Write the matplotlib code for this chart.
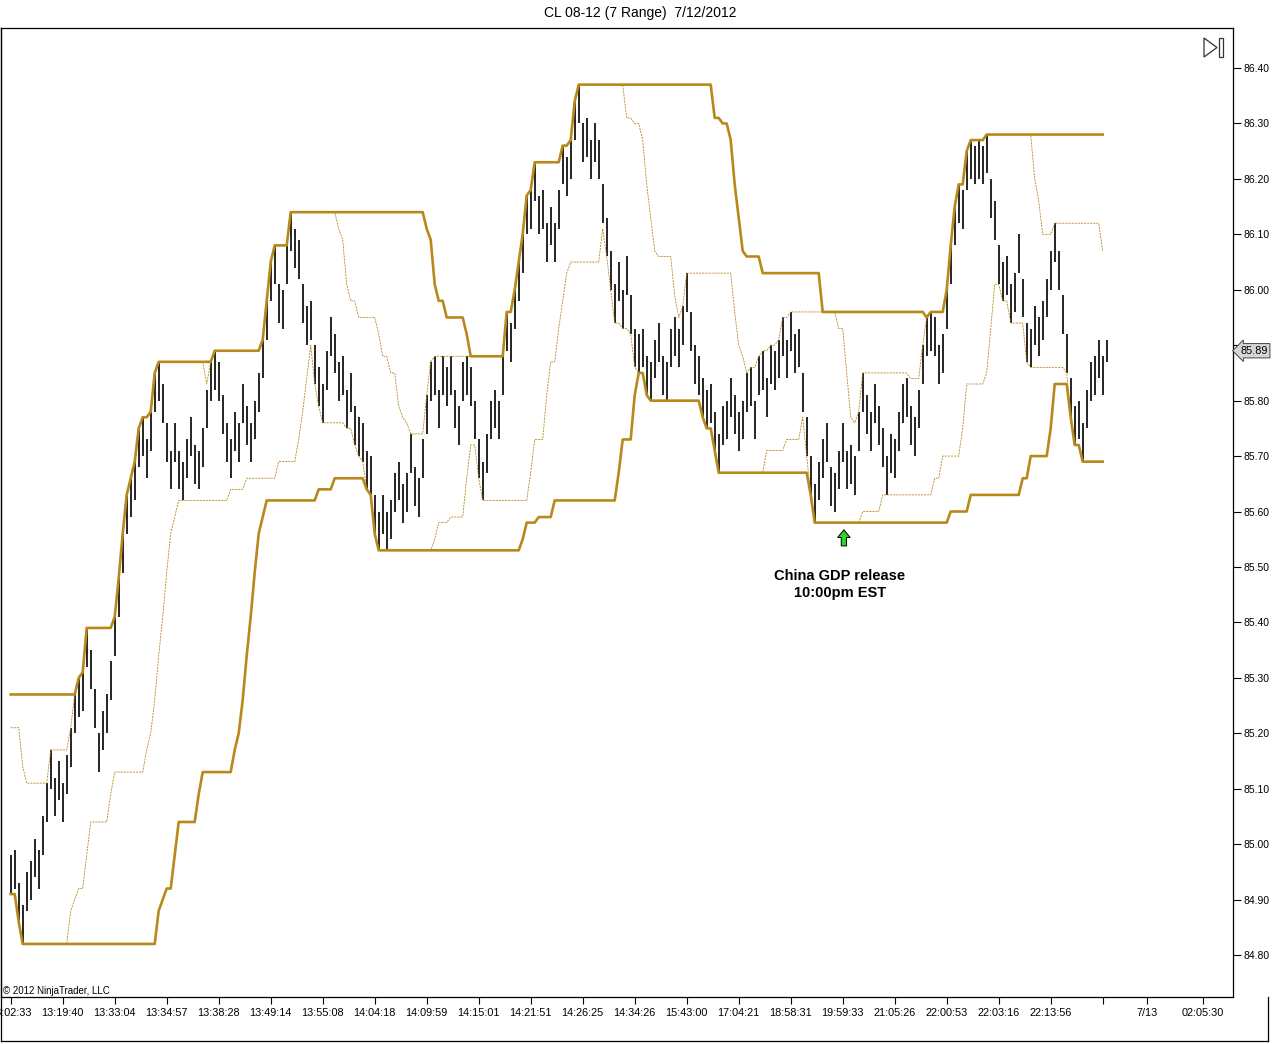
import numpy as np
import pandas as pd
import matplotlib
matplotlib.use("Agg")
import matplotlib.pyplot as plt
from matplotlib.patches import Polygon, Rectangle
from matplotlib.lines import Line2D
from matplotlib.ticker import FixedLocator, FuncFormatter
import matplotlib.transforms as mtransforms

plt.rcParams['font.family'] = ['Liberation Sans', 'DejaVu Sans']

# 7-tick range bars, high of each bar
bar_high = [
    84.98, 84.99, 84.93, 84.89, 84.95, 84.97, 85.01, 84.99, 85.05, 85.11,
    85.17, 85.12, 85.15, 85.11, 85.16, 85.21, 85.27, 85.30, 85.31, 85.39,
    85.35, 85.28, 85.20, 85.24, 85.27, 85.33, 85.41, 85.48, 85.56, 85.63,
    85.66, 85.69, 85.75, 85.77, 85.73, 85.78, 85.85, 85.87, 85.83, 85.76,
    85.71, 85.76, 85.71, 85.69, 85.73, 85.77, 85.72, 85.71, 85.75, 85.82,
    85.87, 85.89, 85.87, 85.81, 85.76, 85.73, 85.78, 85.76, 85.83, 85.79,
    85.76, 85.80, 85.85, 85.91, 85.98, 86.05, 86.08, 86.01, 86.00, 86.08,
    86.14, 86.11, 86.09, 86.01, 85.97, 85.98, 85.90, 85.86, 85.83, 85.89,
    85.95, 85.92, 85.87, 85.88, 85.82, 85.85, 85.79, 85.77, 85.76, 85.71,
    85.70, 85.63, 85.60, 85.63, 85.60, 85.62, 85.67, 85.69, 85.65, 85.67,
    85.74, 85.68, 85.66, 85.73, 85.81, 85.87, 85.88, 85.82, 85.88, 85.86,
    85.88, 85.82, 85.79, 85.87, 85.88, 85.86, 85.80, 85.73, 85.69, 85.74,
    85.80, 85.82, 85.80, 85.88, 85.96, 85.94, 86.00, 86.05, 86.10, 86.17,
    86.18, 86.23, 86.17, 86.18, 86.12, 86.15, 86.12, 86.18, 86.26, 86.24,
    86.27, 86.34, 86.37, 86.30, 86.31, 86.27, 86.30, 86.27, 86.19, 86.13,
    86.07, 86.01, 86.05, 86.00, 86.06, 85.99, 85.93, 85.92, 85.93, 85.88,
    85.87, 85.91, 85.94, 85.88, 85.87, 85.93, 85.95, 85.93, 85.97, 86.03,
    85.96, 85.90, 85.88, 85.84, 85.82, 85.83, 85.78, 85.74, 85.79, 85.80,
    85.84, 85.81, 85.78, 85.80, 85.85, 85.86, 85.80, 85.88, 85.89, 85.84,
    85.90, 85.89, 85.91, 85.95, 85.91, 85.96, 85.92, 85.93, 85.85, 85.77,
    85.70, 85.65, 85.69, 85.73, 85.76, 85.68, 85.67, 85.71, 85.76, 85.71,
    85.72, 85.70, 85.78, 85.85, 85.81, 85.78, 85.83, 85.79, 85.75, 85.70,
    85.74, 85.73, 85.78, 85.83, 85.84, 85.79, 85.77, 85.82, 85.90, 85.95,
    85.96, 85.95, 85.90, 85.92, 86.00, 86.08, 86.15, 86.19, 86.18, 86.25,
    86.27, 86.26, 86.27, 86.26, 86.28, 86.20, 86.16, 86.08, 86.05, 86.06,
    86.01, 86.03, 86.10, 86.02, 85.94, 85.93, 85.97, 85.95, 85.98, 86.02,
    86.07, 86.12, 86.07, 85.99, 85.92, 85.84, 85.79, 85.80, 85.76, 85.82,
    85.87, 85.88, 85.91, 85.88, 85.91,
]
bar_range = 0.07          # 7 ticks
last_bar_low = 85.87      # last bar still forming
last_price = 85.89

# channel values at the left edge, carried over from bars before the chart
slow_upper_lead = [85.27, 85.27, 85.27, 85.27, 85.27, 85.27, 85.27, 85.27,
                   85.27, 85.27, 85.27, 85.27, 85.27, 85.27, 85.27, 85.27,
                   85.27, 85.27, 85.27]
fast_upper_lead = [85.21, 85.21, 85.21, 85.14, 85.11, 85.11, 85.11, 85.11,
                   85.11, 85.11]
slow_period = 34
fast_period = 12

tick_bars = [0, 13, 26, 39, 52, 65, 78, 91, 104, 117, 130, 143, 156, 169,
             182, 195, 208, 221, 234, 247, 260, 273, 284, 298]
tick_labels = ['13:02:33', '13:19:40', '13:33:04', '13:34:57', '13:38:28',
               '13:49:14', '13:55:08', '14:04:18', '14:09:59', '14:15:01',
               '14:21:51', '14:26:25', '14:34:26', '15:43:00', '17:04:21',
               '18:58:31', '19:59:33', '21:05:26', '22:00:53', '22:03:16',
               '22:13:56', '', '7/13', '02:05:30']
price_ticks = [84.80, 84.90, 85.00, 85.10, 85.20, 85.30, 85.40, 85.50, 85.60,
               85.70, 85.80, 85.90, 86.00, 86.10, 86.20, 86.30, 86.40]

note_bar = 208.3
note_text = 'China GDP release\n10:00pm EST'

# ---- derived series
highs = np.array(bar_high)
lows = highs - bar_range
lows[-1] = last_bar_low
idx = np.arange(len(highs))

# channels are computed on closed bars only
hi = pd.Series(highs[:-1])
lo = pd.Series(lows[:-1])
slow_up = hi.rolling(slow_period, min_periods=1).max().to_numpy()
slow_dn = lo.rolling(slow_period, min_periods=1).min().to_numpy()
fast_up = hi.rolling(fast_period, min_periods=1).max().to_numpy()
fast_dn = lo.rolling(fast_period, min_periods=1).min().to_numpy()
n = len(slow_upper_lead)
slow_up[:n] = np.maximum(slow_up[:n], slow_upper_lead)
n = len(fast_upper_lead)
fast_up[:n] = np.maximum(fast_up[:n], fast_upper_lead)
cidx = idx[:-1]

W, H = 1280, 1044
fig = plt.figure(figsize=(W / 100, H / 100), dpi=100)
fig.patch.set_facecolor('white')
ax = fig.add_axes([1 / W, 1 - 997 / H, 1232 / W, 969 / H])

gold = '#B8891A'
ax.vlines(idx, lows, highs, color='black', lw=1.2, zorder=2)
ax.plot(cidx, slow_up, color=gold, lw=1.9, zorder=3)
ax.plot(cidx, slow_dn, color=gold, lw=1.9, zorder=3)
ax.plot(cidx, fast_up, color=gold, lw=0.6, ls=(0, (2.5, 1.2)), zorder=3)
ax.plot(cidx, fast_dn, color=gold, lw=0.6, ls=(0, (2.5, 1.2)), zorder=3)

# px -> data: bar i sits at x = 10.7 + 4 i ; 554.4 px per dollar
ax.set_xlim((1 - 10.7) / 4, (1233 - 10.7) / 4)
ax.set_ylim(86.40 - (997 - 68) / 554.4, 86.40 + (68 - 28) / 554.4)


def price_label(v, pos):
    # the 85.90 label sits under the last-price marker
    if abs(v - 85.90) < 1e-6:
        return ''
    return f'{v:.2f}'


ax.yaxis.tick_right()
ax.yaxis.set_major_locator(FixedLocator(price_ticks))
ax.yaxis.set_major_formatter(FuncFormatter(price_label))
ax.xaxis.set_major_locator(FixedLocator(tick_bars))
ax.set_xticklabels(tick_labels)
ax.tick_params(axis='y', direction='out', length=6, width=0.8, pad=1.5,
               labelsize=7.5, colors='black')
ax.tick_params(axis='x', direction='out', length=5, width=0.8, pad=3,
               labelsize=7.8, colors='black')
for s in ax.spines.values():
    s.set_linewidth(0.9)
    s.set_color('black')

# current price marker
blend = mtransforms.blended_transform_factory(ax.transAxes, ax.transData)
ax.text(1.006, last_price, f'{last_price:.2f}', transform=blend,
        ha='left', va='center', fontsize=7.8, clip_on=False, zorder=5,
        bbox=dict(boxstyle='larrow,pad=0.2', fc='#d6d6d6', ec='#444444',
                  lw=0.7))

# event note
ax.annotate('', xy=(note_bar, 85.572), xytext=(note_bar, 85.533),
            arrowprops=dict(arrowstyle='simple,head_width=0.9,head_length=0.55,tail_width=0.38',
                            fc='#2fd12f', ec='black', lw=0.7))
ax.text(note_bar - 1, 85.468, note_text, ha='center', va='center',
        fontsize=10.5, fontweight='bold', linespacing=1.3)


def fpx(x, y):
    return (x / W, 1 - y / H)


fig.text(640 / W, 1 - 13 / H, 'CL 08-12 (7 Range)  7/12/2012', ha='center',
         va='center', fontsize=10)
fig.text(3 / W, 1 - 991 / H, '\u00a9 2012 NinjaTrader, LLC', ha='left',
         va='center', fontsize=7)

# "go to last bar" icon
fig.add_artist(Polygon([fpx(1204, 38), fpx(1204, 57), fpx(1217, 47.5)],
                       closed=True, fill=False, ec='#333333', lw=0.9,
                       transform=fig.transFigure))
x0, y0 = fpx(1218.5, 57)
x1, y1 = fpx(1222.5, 38)
fig.add_artist(Rectangle((x0, y0), x1 - x0, y1 - y0, fill=False,
                         ec='#333333', lw=0.9, transform=fig.transFigure))

# outer frame
fig.add_artist(Line2D([0.5 / W, 0.5 / W], [1 - 28 / H, 1 - 1041 / H],
                      color='black', lw=0.9, transform=fig.transFigure))
fig.add_artist(Line2D([0.5 / W, 1268 / W], [1 - 1041 / H, 1 - 1041 / H],
                      color='black', lw=0.9, transform=fig.transFigure))
fig.add_artist(Line2D([1268 / W, 1268 / W], [1 - 997 / H, 1 - 1041 / H],
                      color='black', lw=0.9, transform=fig.transFigure))

fig.savefig('out.png', dpi=100, facecolor='white')
